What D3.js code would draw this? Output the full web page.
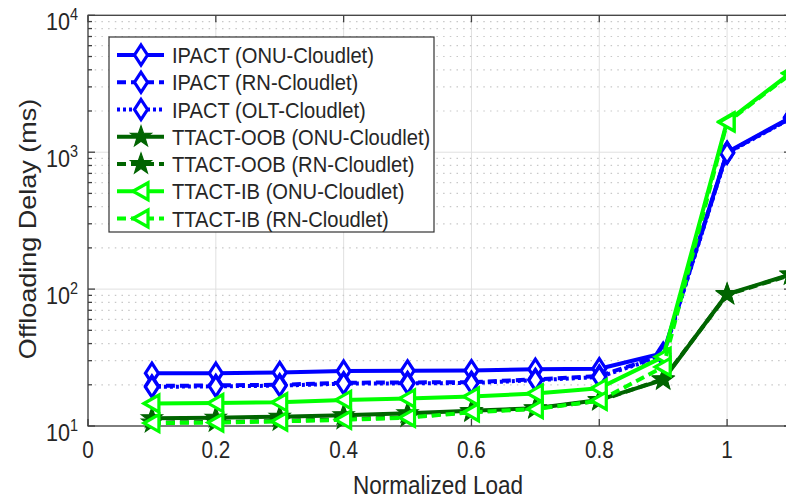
<!DOCTYPE html>
<html>
<head>
<meta charset="utf-8">
<script src="https://cdn.jsdelivr.net/npm/d3@7"></script>
<style>
  html, body { margin: 0; padding: 0; background: #fff; overflow: hidden; }
  svg { display: block; }
  text { font-family: "Liberation Sans", Arial, sans-serif; fill: #262626; }
</style>
</head>
<body>
<svg id="chart" width="786" height="498"></svg>
<script>
// Offloading delay vs normalized load (log y axis)
const loads = [0.1, 0.2, 0.3, 0.4, 0.5, 0.6, 0.7, 0.8, 0.9, 1.0, 1.1];

const ipactOnu  = [24.3, 24.3, 24.6, 25.2, 25.3, 25.4, 26.0, 26.2, 34.0, 1000, 1800];
const ipactRn   = [19.6, 19.8, 20.0, 20.7, 20.8, 20.9, 21.9, 23.2, 33.0, 990, 1780];
const ipactOlt  = [19.3, 19.5, 19.7, 20.4, 20.5, 20.6, 21.6, 22.8, 32.5, 985, 1770];
const oobOnu    = [11.4, 11.5, 11.7, 12.0, 12.4, 12.9, 13.5, 15.5, 21.7, 92, 128];
const oobRn     = [10.6, 10.7, 10.9, 11.2, 11.6, 12.7, 13.4, 15.3, 22.0, 91, 127];
const ibOnu     = [14.6, 14.7, 14.9, 15.5, 15.9, 16.4, 17.3, 18.9, 32.0, 1680, 3800];
const ibRn      = [10.5, 10.6, 10.8, 11.1, 11.5, 12.6, 13.3, 15.3, 27.0, 1650, 3750];

const seriesNames = [
  "IPACT (ONU-Cloudlet)", "IPACT (RN-Cloudlet)", "IPACT (OLT-Cloudlet)",
  "TTACT-OOB (ONU-Cloudlet)", "TTACT-OOB (RN-Cloudlet)",
  "TTACT-IB (ONU-Cloudlet)", "TTACT-IB (RN-Cloudlet)"
];
const xTicks = [0, 0.2, 0.4, 0.6, 0.8, 1];
const yDecades = [1, 2, 3, 4];
const xLabel = "Normalized Load";
const yLabel = "Offloading Delay (ms)";

const BLUE = "#0000ff", DKGREEN = "#006400", GREEN = "#00ff00";
const series = [
  { name: seriesNames[0], values: ipactOnu, color: BLUE,    dash: null,    marker: "diamond" },
  { name: seriesNames[1], values: ipactRn,  color: BLUE,    dash: "9,5",   marker: "diamond" },
  { name: seriesNames[2], values: ipactOlt, color: BLUE,    dash: "3,3",   marker: "diamond" },
  { name: seriesNames[3], values: oobOnu,   color: DKGREEN, dash: null,    marker: "star" },
  { name: seriesNames[4], values: oobRn,    color: DKGREEN, dash: "9,5",   marker: "star" },
  { name: seriesNames[5], values: ibOnu,    color: GREEN,   dash: null,    marker: "triangle" },
  { name: seriesNames[6], values: ibRn,     color: GREEN,   dash: "9,5",   marker: "triangle" }
];

const svg = d3.select("#chart");
const pL = 88, pR = 791, pT = 15.3, pB = 426;
const x = d3.scaleLinear().domain([0, 1.1]).range([pL, pR]);
const y = d3.scaleLog().domain([10, 10000]).range([pB, pT]);
const SQ = 0.9; // horizontal text compression

function label(g, px, py, str, size, anchor, rot) {
  return g.append("text")
    .attr("transform", `translate(${px},${py}) scale(${SQ},1)` + (rot ? ` rotate(${rot})` : ""))
    .attr("text-anchor", anchor || "start")
    .style("font-size", size + "px")
    .text(str);
}

// grid
const grid = svg.append("g");
xTicks.forEach(t => {
  grid.append("line").attr("x1", x(t)).attr("x2", x(t)).attr("y1", pT).attr("y2", pB)
    .attr("stroke", "#e0e0e0").attr("stroke-width", 1);
});
for (let d = 1; d <= 3; d++) {
  for (let m = 2; m <= 9; m++) {
    const v = m * Math.pow(10, d);
    grid.append("line").attr("x1", pL).attr("x2", pR).attr("y1", y(v)).attr("y2", y(v))
      .attr("stroke", "#c8c8c8").attr("stroke-width", 1.2).attr("stroke-dasharray", "1.5,5.2");
  }
}
yDecades.forEach(d => {
  grid.append("line").attr("x1", pL).attr("x2", pR).attr("y1", y(Math.pow(10, d))).attr("y2", y(Math.pow(10, d)))
    .attr("stroke", "#e0e0e0").attr("stroke-width", 1);
});

// axes box and ticks
const ax = svg.append("g").attr("stroke", "#404040").attr("stroke-width", 1.3);
ax.append("rect").attr("x", pL).attr("y", pT).attr("width", pR - pL).attr("height", pB - pT)
  .attr("fill", "none");
xTicks.forEach(t => {
  ax.append("line").attr("x1", x(t)).attr("x2", x(t)).attr("y1", pB).attr("y2", pB - 7);
  ax.append("line").attr("x1", x(t)).attr("x2", x(t)).attr("y1", pT).attr("y2", pT + 7);
});
yDecades.forEach(d => {
  const py = y(Math.pow(10, d));
  ax.append("line").attr("x1", pL).attr("x2", pL + 7).attr("y1", py).attr("y2", py);
  ax.append("line").attr("x1", pR).attr("x2", pR - 7).attr("y1", py).attr("y2", py);
});
for (let d = 1; d <= 3; d++) {
  for (let m = 2; m <= 9; m++) {
    const py = y(m * Math.pow(10, d));
    ax.append("line").attr("x1", pL).attr("x2", pL + 4).attr("y1", py).attr("y2", py);
    ax.append("line").attr("x1", pR).attr("x2", pR - 4).attr("y1", py).attr("y2", py);
  }
}

// tick labels
const tl = svg.append("g");
xTicks.forEach(t => label(tl, x(t), 458, d3.format("~g")(t), 23, "middle"));
yDecades.forEach(d => {
  const py = y(Math.pow(10, d));
  label(tl, 70, py + 15, "10", 24, "end");
  label(tl, 70, py + 5, String(d), 16, "start");
});

// axis titles
label(svg, 438, 494, xLabel, 25, "middle");
label(svg, 36, 229, yLabel, 27, "middle", -90);

// marker shapes
const markerPath = {
  diamond: "M0,-10L6.5,0L0,10L-6.5,0Z",
  triangle: "M-8,0L7,-8.5L7,8.5Z",
  star: (() => {
    const pts = [];
    for (let i = 0; i < 10; i++) {
      const r = i % 2 === 0 ? 11 : 4.4;
      const a = -Math.PI / 2 + i * Math.PI / 5;
      pts.push([r * Math.cos(a), r * Math.sin(a)]);
    }
    return "M" + pts.map(p => p[0].toFixed(2) + "," + p[1].toFixed(2)).join("L") + "Z";
  })()
};
function drawMarker(g, px, py, s) {
  const p = g.append("path").attr("d", markerPath[s.marker]).attr("transform", `translate(${px},${py})`);
  if (s.marker === "star") p.attr("fill", s.color).attr("stroke", s.color).attr("stroke-width", 1.2);
  else p.attr("fill", "#fff").attr("stroke", s.color).attr("stroke-width", 3.2);
}

// series lines and markers
svg.append("clipPath").attr("id", "plotclip").append("rect")
  .attr("x", pL).attr("y", pT).attr("width", pR - pL).attr("height", pB - pT + 20);
const plot = svg.append("g").attr("clip-path", "url(#plotclip)");
const line = d3.line().x((d, i) => x(loads[i])).y(d => y(d));
series.forEach(s => {
  const g = plot.append("g");
  g.append("path").attr("d", line(s.values)).attr("fill", "none")
    .attr("stroke", s.color).attr("stroke-width", 4)
    .attr("stroke-dasharray", s.dash).attr("stroke-linejoin", "round");
  s.values.forEach((v, i) => drawMarker(g, x(loads[i]), y(v), s));
});

// legend
const lg = svg.append("g");
lg.append("rect").attr("x", 109).attr("y", 37).attr("width", 325).attr("height", 195)
  .attr("fill", "#fff").attr("stroke", "#333").attr("stroke-width", 1.2);
const rowY = d3.scaleLinear().domain([0, 6]).range([55, 218.5]);
series.forEach((s, i) => {
  const ry = rowY(i);
  lg.append("line").attr("x1", 117).attr("x2", 164).attr("y1", ry).attr("y2", ry)
    .attr("stroke", s.color).attr("stroke-width", 4).attr("stroke-dasharray", s.dash);
  drawMarker(lg, 141, ry, s);
  label(lg, 172, ry + 8, s.name, 22.4, "start");
});
</script>
</body>
</html>
